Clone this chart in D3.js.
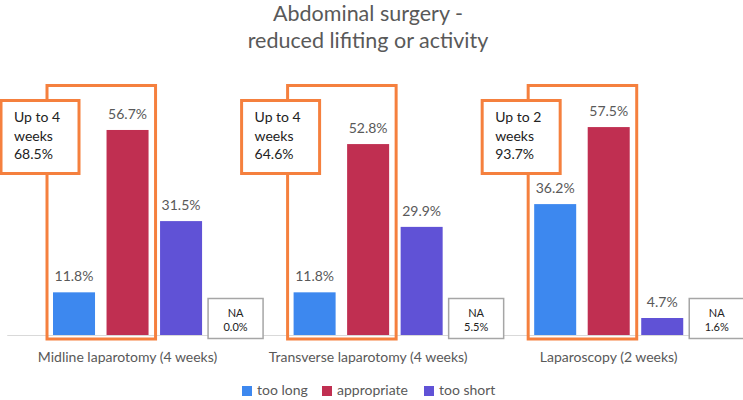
<!DOCTYPE html>
<html>
<head>
<meta charset="utf-8">
<script src="https://cdn.jsdelivr.net/npm/d3@7"></script>
<style>
  body { margin: 0; background: #fff; }
  text { font-family: Lato, "Open Sans", sans-serif; }
</style>
</head>
<body>
<svg id="chart" width="743" height="400"></svg>
<script>
var categories = ['Midline laparotomy (4 weeks)', 'Transverse laparotomy (4 weeks)', 'Laparoscopy (2 weeks)'];
var series = ['too long', 'appropriate', 'too short'];
var tooLong = [11.8, 11.8, 36.2];
var appropriate = [56.7, 52.8, 57.5];
var tooShort = [31.5, 29.9, 4.7];
var naValues = [0.0, 5.5, 1.6];
var boxLines = [['Up to 4', 'weeks', '68.5%'], ['Up to 4', 'weeks', '64.6%'], ['Up to 2', 'weeks', '93.7%']];

var colors = ['#3d88ef', '#c02f51', '#6052d6'];
var orange = '#f5803e';
var grey = '#595959';

var svg = d3.select('#chart');
var baseY = 335;

var x0 = d3.scaleBand()
    .domain(categories)
    .range([7.25, 729])
    .padding(0);

var x1 = d3.scaleBand()
    .domain(series)
    .range([0, x0.bandwidth()])
    .paddingInner(0.215)
    .paddingOuter(0.855);

var y = d3.scaleLinear()
    .domain([0, 65])
    .range([baseY, baseY - 65 * 3.616]);

var color = d3.scaleOrdinal(series, colors);

var data = categories.map(function(c, i) {
    return {
        cat: c,
        i: i,
        vals: [tooLong[i], appropriate[i], tooShort[i]].map(function(v, j) {
            return { key: series[j], value: v };
        })
    };
});

// title
svg.append('text')
    .attr('x', 368)
    .attr('y', 21)
    .attr('text-anchor', 'middle')
    .style('font-size', '21.5px')
    .style('fill', grey)
    .text('Abdominal surgery -');

svg.append('text')
    .attr('x', 368)
    .attr('y', 48)
    .attr('text-anchor', 'middle')
    .style('font-size', '21.5px')
    .style('fill', grey)
    .text('reduced lifiting or activity');

// axis line
svg.append('line')
    .attr('x1', x0.range()[0])
    .attr('x2', x0.range()[1])
    .attr('y1', baseY + 0.5)
    .attr('y2', baseY + 0.5)
    .style('stroke', '#d9d9d9')
    .style('stroke-width', 1);

var groups = svg.selectAll('.grp')
    .data(data)
    .enter().append('g')
    .attr('class', 'grp')
    .attr('transform', function(d) { return 'translate(' + x0(d.cat) + ',0)'; });

// orange outline round too long + appropriate
groups.append('rect')
    .attr('x', x1('too long') - 6)
    .attr('y', y(69))
    .attr('width', x1('appropriate') + x1.bandwidth() + 7 - (x1('too long') - 6))
    .attr('height', baseY + 4 - y(69))
    .style('fill', 'none')
    .style('stroke', orange)
    .style('stroke-width', 3);

groups.selectAll('.bar')
    .data(function(d) { return d.vals; })
    .enter().append('rect')
    .attr('class', 'bar')
    .attr('x', function(d) { return x1(d.key); })
    .attr('y', function(d) { return y(d.value); })
    .attr('width', x1.bandwidth())
    .attr('height', function(d) { return baseY - y(d.value); })
    .style('fill', function(d) { return color(d.key); });

groups.selectAll('.lbl')
    .data(function(d) { return d.vals; })
    .enter().append('text')
    .attr('class', 'lbl')
    .attr('x', function(d) { return x1(d.key) + x1.bandwidth() / 2; })
    .attr('y', function(d) { return y(d.value) - 11; })
    .attr('text-anchor', 'middle')
    .style('font-size', '14px')
    .style('fill', grey)
    .text(function(d) { return d.value.toFixed(1) + '%'; });

// NA boxes
var naX = x1('too short') + x1.bandwidth() + 6;
groups.append('rect')
    .attr('x', naX)
    .attr('y', baseY - 36.5)
    .attr('width', 55)
    .attr('height', 40)
    .style('fill', '#fff')
    .style('stroke', '#a6a6a6')
    .style('stroke-width', 1.5);

groups.append('text')
    .attr('x', naX + 27.5)
    .attr('y', baseY - 18)
    .attr('text-anchor', 'middle')
    .style('font-size', '11px')
    .style('fill', '#222')
    .text('NA');

groups.append('text')
    .attr('x', naX + 27.5)
    .attr('y', baseY - 4)
    .attr('text-anchor', 'middle')
    .style('font-size', '11px')
    .style('fill', '#222')
    .text(function(d) { return naValues[d.i].toFixed(1) + '%'; });

// callout boxes
var boxX = x1('too long') - 52;
var boxY = y(69) + 15;
groups.append('rect')
    .attr('x', boxX)
    .attr('y', boxY)
    .attr('width', 78)
    .attr('height', 73)
    .style('fill', '#fff')
    .style('stroke', orange)
    .style('stroke-width', 3);

groups.each(function(d) {
    var g = d3.select(this);
    boxLines[d.i].forEach(function(t, k) {
        g.append('text')
            .attr('x', boxX + 13)
            .attr('y', boxY + 22 + k * 18.5)
            .style('font-size', '14px')
            .style('fill', '#222')
            .text(t);
    });
});

// category labels
svg.selectAll('.cat')
    .data(categories)
    .enter().append('text')
    .attr('class', 'cat')
    .attr('x', function(d) { return x0(d) + x0.bandwidth() / 2; })
    .attr('y', 362)
    .attr('text-anchor', 'middle')
    .style('font-size', '14px')
    .style('fill', grey)
    .text(function(d) { return d; });

// legend
var legX = [242, 322, 424];
series.forEach(function(s, i) {
    svg.append('rect')
        .attr('x', legX[i])
        .attr('y', 386)
        .attr('width', 10)
        .attr('height', 10)
        .style('fill', color(s));
    svg.append('text')
        .attr('x', legX[i] + 15)
        .attr('y', 391)
        .attr('dominant-baseline', 'middle')
        .style('font-size', '14px')
        .style('fill', grey)
        .text(s);
});
</script>
</body>
</html>
